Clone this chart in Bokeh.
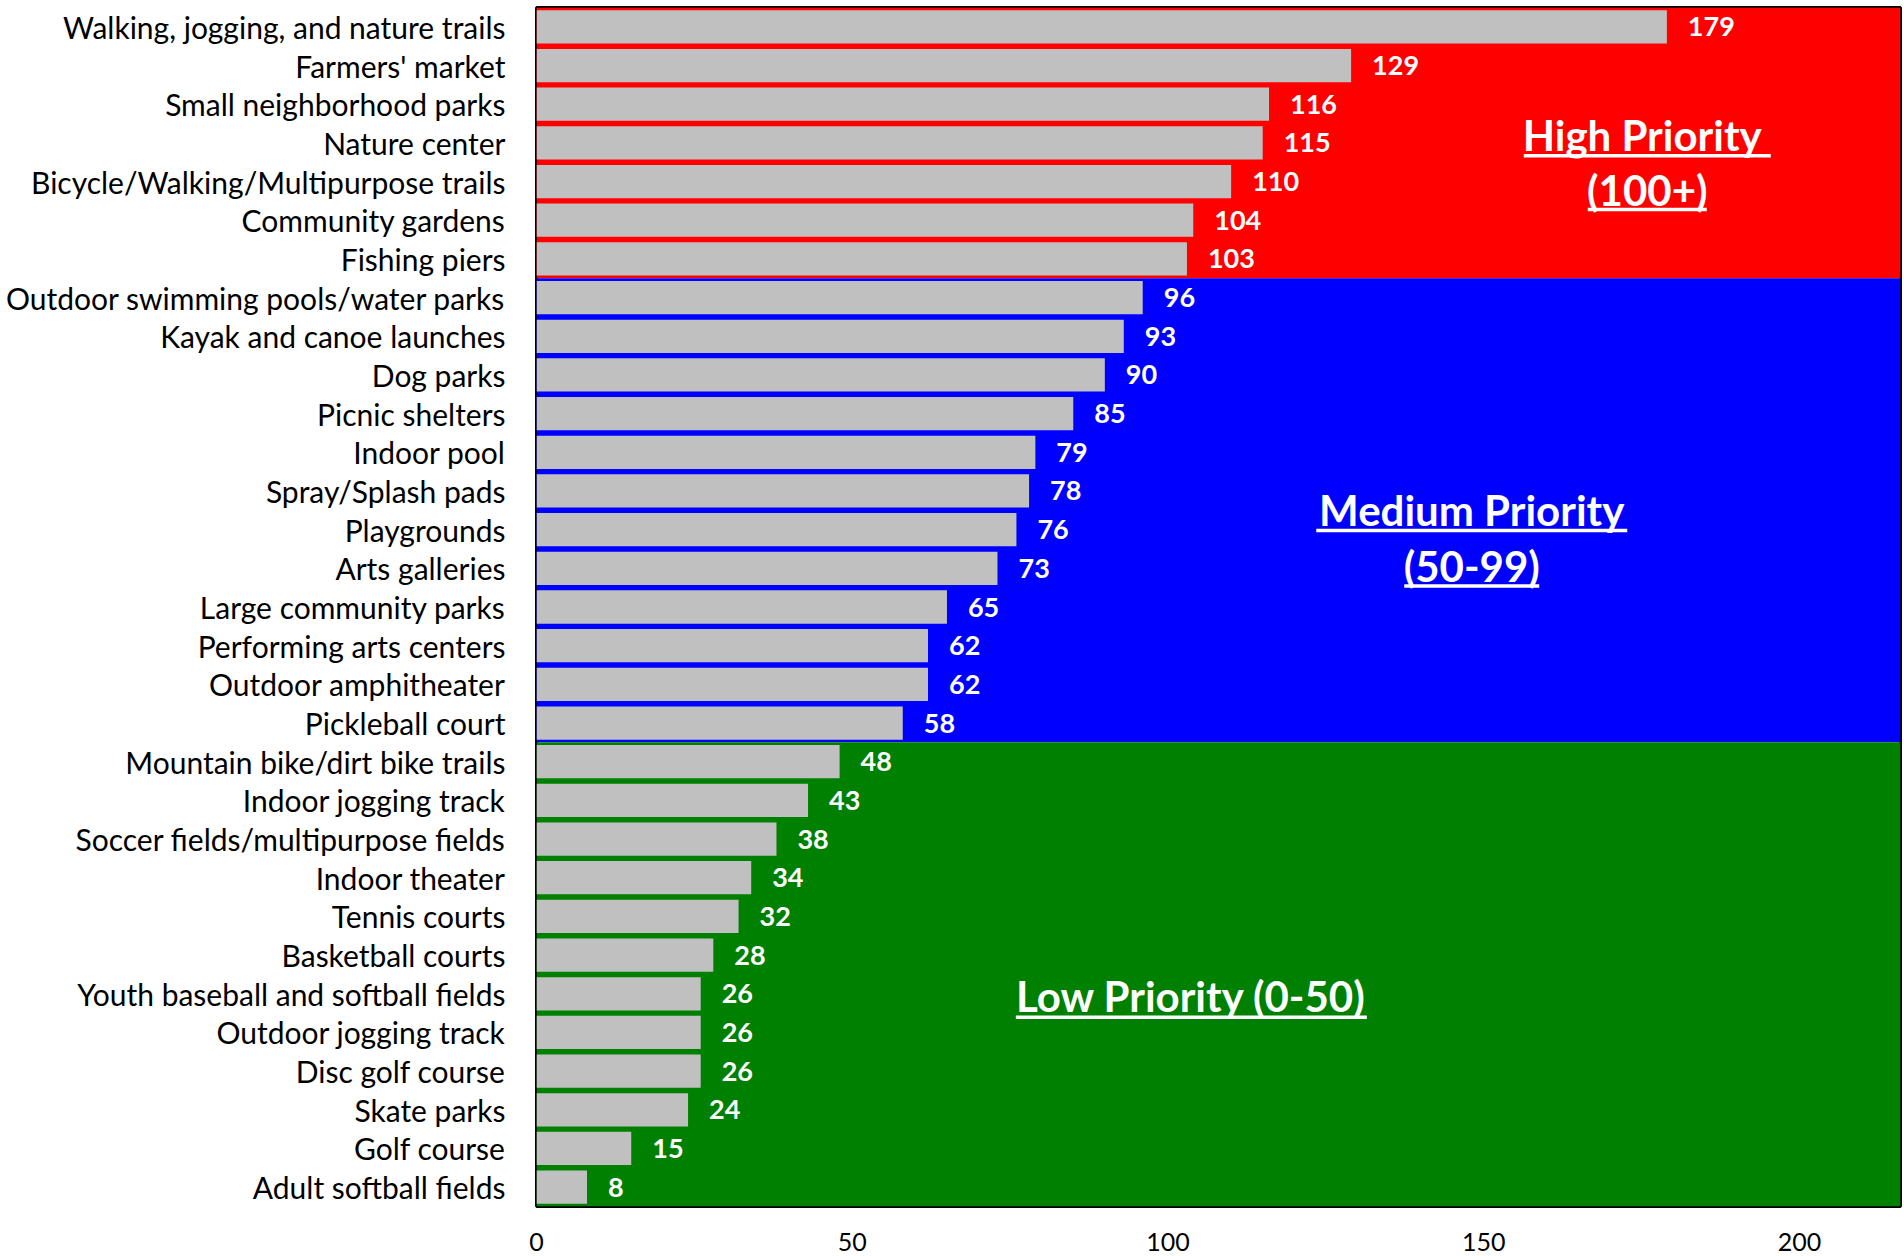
from bokeh.plotting import figure
from bokeh.models import Range1d, FixedTicker, Label, ColumnDataSource
from bokeh.core.properties import value
from bokeh.embed import file_html
from bokeh.resources import INLINE

categories = [
    "Walking, jogging, and nature trails", "Farmers' market", "Small neighborhood parks",
    "Nature center", "Bicycle/Walking/Multipurpose trails", "Community gardens", "Fishing piers",
    "Outdoor swimming pools/water parks", "Kayak and canoe launches", "Dog parks",
    "Picnic shelters", "Indoor pool", "Spray/Splash pads", "Playgrounds", "Arts galleries",
    "Large community parks", "Performing arts centers", "Outdoor amphitheater",
    "Pickleball court", "Mountain bike/dirt bike trails", "Indoor jogging track",
    "Soccer fields/multipurpose fields", "Indoor theater", "Tennis courts",
    "Basketball courts", "Youth baseball and softball fields", "Outdoor jogging track",
    "Disc golf course", "Skate parks", "Golf course", "Adult softball fields",
]
values = [179, 129, 116, 115, 110, 104, 103, 96, 93, 90, 85, 79, 78, 76, 73, 65, 62, 62,
          58, 48, 43, 38, 34, 32, 28, 26, 26, 26, 24, 15, 8]
x_ticks = [0, 50, 100, 150, 200]
x_max = 216

tier_names = ["High", "Medium", "Low"]
tier_lows = [100, 50, 0]
tier_colors = ["#FF0000", "#0000FF", "#008000"]

FONT = "Lato"
n = len(categories)
ypos = [n - 1 - i for i in range(n)]

FW, FH = 1364, 1199
MB_L, MB_T, MB_R, MB_B = 536, 7, 4, 50
p = figure(width=FW + MB_L + MB_R, height=FH + MB_T + MB_B, output_backend="svg",
           toolbar_location=None,
           x_range=Range1d(0, x_max), y_range=Range1d(-0.5, n - 0.5))
p.frame_width = FW
p.frame_height = FH
p.min_border_left = MB_L
p.min_border_right = MB_R
p.min_border_top = MB_T
p.min_border_bottom = MB_B
p.background_fill_color = "white"
p.border_fill_color = "white"
p.outline_line_color = "black"
p.outline_line_width = 3
p.xgrid.visible = False
p.ygrid.visible = False

# tier background bands (counted from the data)
top = n - 0.5
prev_low = None
for lo, color in zip(tier_lows, tier_colors):
    cnt = sum(1 for v in values if v >= lo and (prev_low is None or v < prev_low))
    bottom = top - cnt
    p.quad(left=[0], right=[x_max], bottom=[bottom], top=[top], fill_color=color, line_color=None)
    top = bottom
    prev_low = lo

src = ColumnDataSource(dict(y=ypos, v=values, t=[str(v) for v in values]))
p.hbar(y="y", right="v", left=0, height=0.86, source=src, fill_color="#C0C0C0", line_color=None)
p.text(x="v", y="y", text="t", source=src, x_offset=21, text_align="left", text_baseline="middle",
       text_color="white", text_font_style="bold", text_font_size="27px", text_font=value(FONT))

pxu_x = FW / x_max


def ulabel(xc, yc, yl, txt, wpx):
    p.add_layout(Label(x=xc, y=yc, text=txt, text_align="center", text_baseline="middle",
                       text_color="white", text_font_style="bold", text_font_size="42px",
                       text_font=FONT))
    hw = wpx / 2 / pxu_x
    p.segment(x0=[xc - hw], x1=[xc + hw], y0=[yl], y1=[yl], line_color="white", line_width=3.5)


ulabel(175.9, 27.20, 26.67, "High Priority ", 247)
ulabel(175.9, 25.79, 25.28, "(100+)", 119)
ulabel(148.1, 17.52, 16.98, "Medium Priority", 311)
ulabel(148.1, 16.05, 15.54, "(50-99)", 135)
ulabel(103.7, 4.93, 4.39, "Low Priority (0-50)", 351)

p.xaxis.ticker = FixedTicker(ticks=x_ticks)
p.xaxis.axis_line_color = None
p.xaxis.major_tick_line_color = None
p.xaxis.minor_tick_line_color = None
p.xaxis.major_label_standoff = 20
p.xaxis.major_label_text_font = FONT
p.xaxis.major_label_text_font_size = "25px"
p.xaxis.major_label_text_color = "black"

p.yaxis.ticker = FixedTicker(ticks=ypos)
p.yaxis.major_label_overrides = {y: c for y, c in zip(ypos, categories)}
p.yaxis.axis_line_color = None
p.yaxis.major_tick_line_color = None
p.yaxis.minor_tick_line_color = None
p.yaxis.major_label_standoff = 25
p.yaxis.major_label_text_font = FONT
p.yaxis.major_label_text_font_size = "30px"
p.yaxis.major_label_text_color = "black"

open("out.html", "w").write(file_html(p, INLINE))
